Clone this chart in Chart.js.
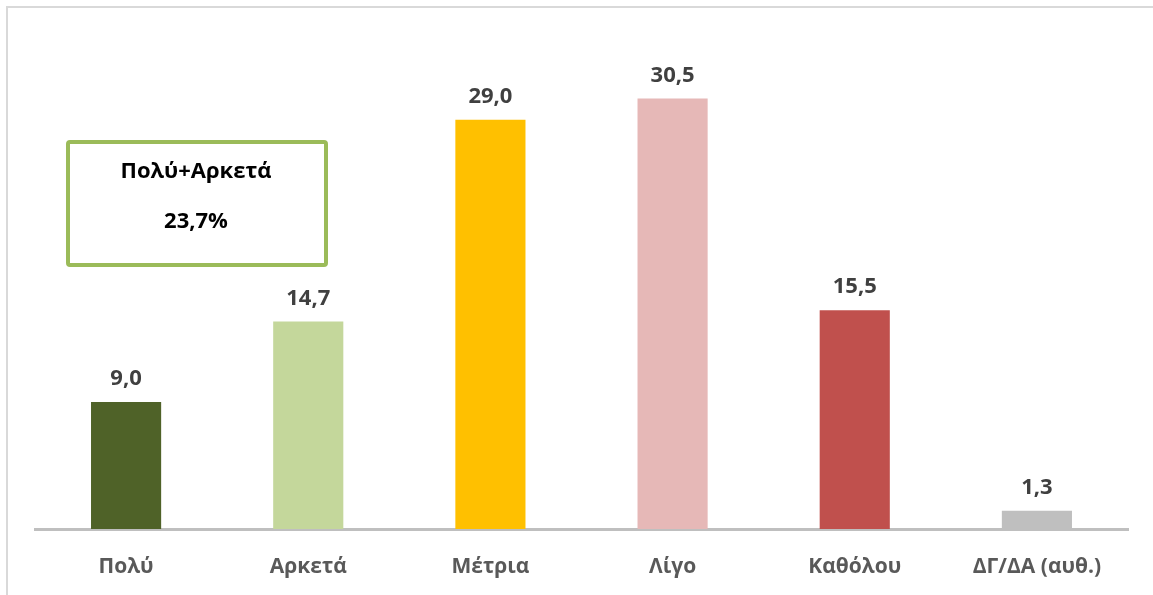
<!DOCTYPE html>
<html>
<head>
<meta charset="utf-8">
<script src="https://cdn.jsdelivr.net/npm/chart.js@4"></script>
<style>
  html, body { margin: 0; padding: 0; background: #fff; overflow: hidden; }
  #wrap { position: relative; width: 1153px; height: 595px; }
  #frame { position: absolute; left: 6px; top: 6px; width: 1400px; height: 900px;
           border: 2px solid #d9d9d9; box-sizing: border-box; }
  canvas { position: absolute; left: 0; top: 0; }
</style>
</head>
<body>
<div id="wrap">
  <div id="frame"></div>
  <canvas id="chart" width="1153" height="595"></canvas>
</div>
<script>
// Κατηγορίες και τιμές
const categories = ['Πολύ', 'Αρκετά', 'Μέτρια', 'Λίγο', 'Καθόλου', 'ΔΓ/ΔΑ (αυθ.)'];
const values = [9.0, 14.7, 29.0, 30.5, 15.5, 1.3];
const barColors = ['#4f6228', '#c4d79b', '#ffc000', '#e6b8b7', '#c0504d', '#bfbfbf'];
const boxLines = ['Πολύ+Αρκετά', '23,7%'];

const FONT = '"Open Sans", "Noto Sans", sans-serif';

// Ετικέτες τιμών πάνω από τις μπάρες
const valueLabels = {
  id: 'valueLabels',
  afterDatasetsDraw(chart) {
    const ctx = chart.ctx;
    const meta = chart.getDatasetMeta(0);
    ctx.save();
    ctx.font = 'bold 22px ' + FONT;
    ctx.fillStyle = '#404040';
    ctx.textAlign = 'center';
    ctx.textBaseline = 'middle';
    meta.data.forEach((bar, i) => {
      ctx.fillText(values[i].toFixed(1).replace('.', ','), bar.x, bar.y - 23);
    });
    ctx.restore();
  }
};

// Πλαίσιο Πολύ+Αρκετά
const summaryBox = {
  id: 'summaryBox',
  afterDraw(chart) {
    const ctx = chart.ctx;
    ctx.save();
    ctx.strokeStyle = '#9bbb59';
    ctx.lineWidth = 4;
    ctx.beginPath();
    ctx.roundRect(68, 142, 258, 123, 2);
    ctx.stroke();
    ctx.font = 'bold 22px ' + FONT;
    ctx.fillStyle = '#000';
    ctx.textAlign = 'center';
    ctx.textBaseline = 'middle';
    ctx.fillText(boxLines[0], 196, 172);
    ctx.fillText(boxLines[1], 196, 222);
    ctx.restore();
  }
};

new Chart(document.getElementById('chart'), {
  type: 'bar',
  data: {
    labels: categories,
    datasets: [{
      data: values,
      backgroundColor: barColors,
      borderWidth: 0,
      categoryPercentage: 1,
      barPercentage: 0.385
    }]
  },
  options: {
    responsive: false,
    animation: false,
    layout: { padding: { left: 35, right: 25, top: 35, bottom: 0 } },
    plugins: { legend: { display: false }, tooltip: { enabled: false } },
    scales: {
      x: {
        grid: { display: false },
        border: { color: '#bfbfbf', width: 3 },
        ticks: { color: '#595959', font: { family: FONT, size: 21, weight: 'bold' }, padding: 17 },
        afterFit(scale) { scale.height = 66; }
      },
      y: { display: false, min: 0, max: 35 }
    }
  },
  plugins: [valueLabels, summaryBox]
});
</script>
</body>
</html>
